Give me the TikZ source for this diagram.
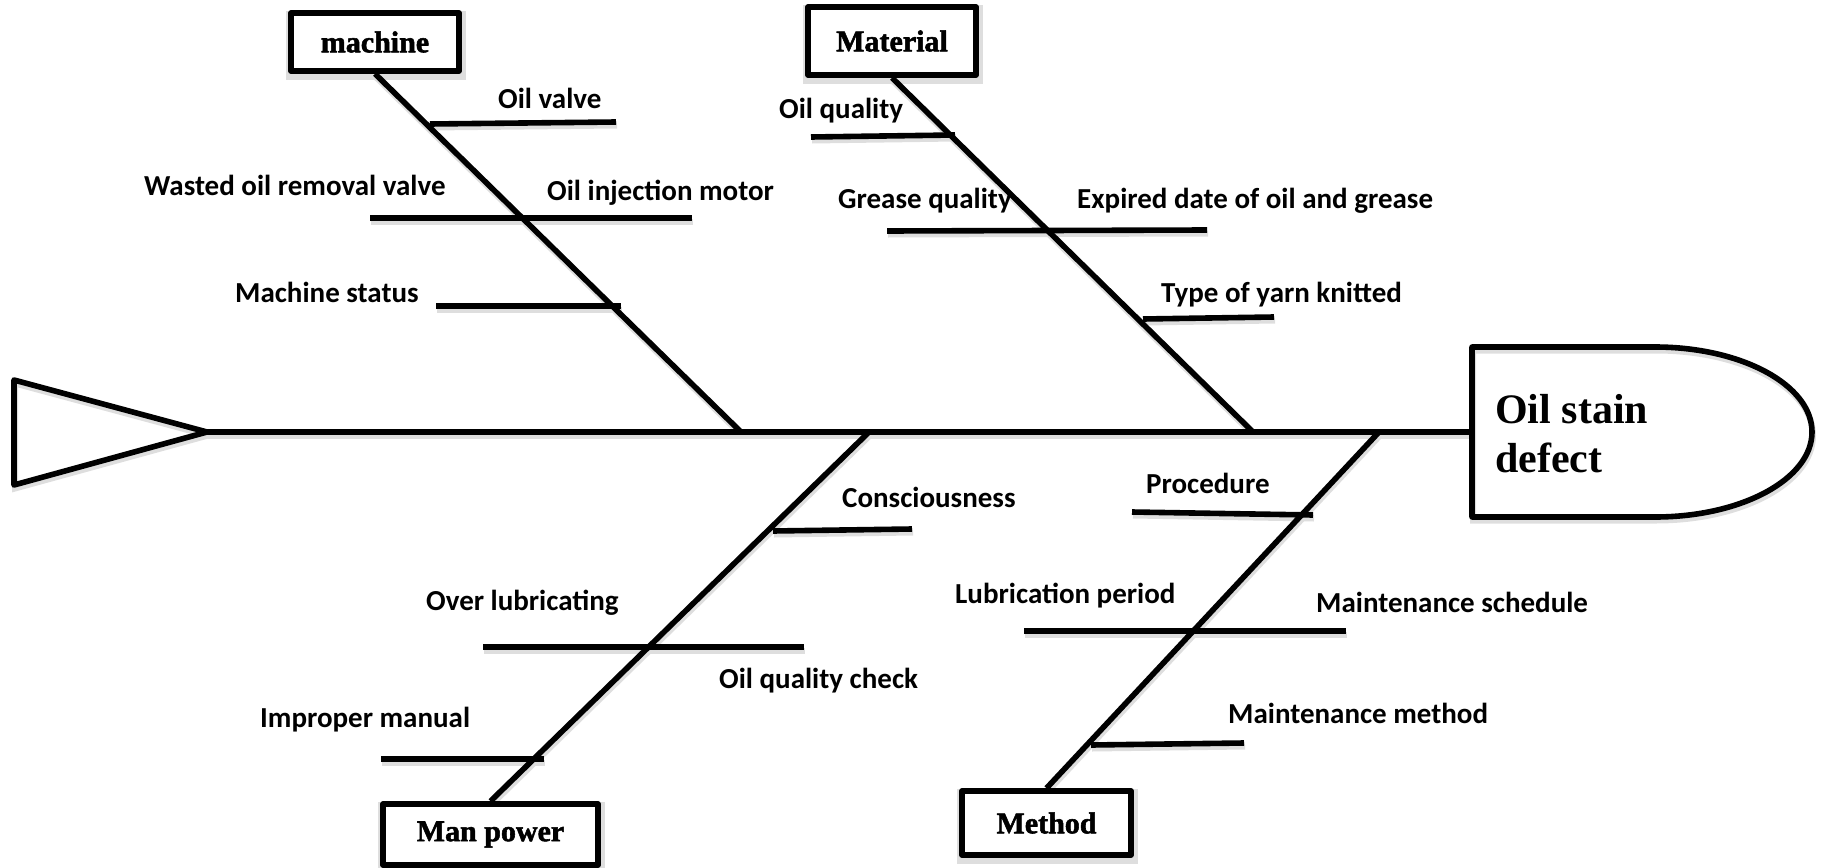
\documentclass[tikz,border=0pt]{standalone}
\usepackage{fontspec}
\setmainfont{Liberation Serif}
\newfontfamily\labelfont{Carlito}[BoldFont=* Bold]
\newfontfamily\catfont{Liberation Serif}[UprightFont={* Bold}, FakeBold=1.8]
\pgfdeclarelayer{shadow}
\pgfsetlayers{shadow,main}
\begin{document}
\begin{tikzpicture}[x=1pt,y=-1pt,
  drop/.style={draw=black!13, line width=6pt, transform canvas={shift={(1pt,-3.5pt)}}},
  bone/.style={line width=5.6pt, line cap=butt},
  frame/.style={draw, line width=5.6pt, line join=round},
  catbox/.style={frame, fill=white, rectangle, inner sep=0pt, font=\catfont\fontsize{30}{34}\selectfont},
  cause/.style={anchor=base west, inner sep=0pt, font=\labelfont\bfseries\fontsize{29}{33}\selectfont},
  headtext/.style={anchor=base west, inner sep=0pt, font=\fontsize{42}{48}\selectfont\bfseries}]
\useasboundingbox (0,0) rectangle (1822,867);

% tail of the fish
\coordinate (tailtop) at (14,380);
\coordinate (tailtip) at (207,432);
\coordinate (tailbot) at (14,485);
\draw[frame] (tailtop) -- (tailtip) -- (tailbot) -- cycle;

% head of the fish
\coordinate (headleft) at (1472,432);
\def\headpath{(1655,347) -- (1472,347) -- (1472,517) -- (1655,517)
  arc[start angle=90, end angle=-90, x radius=157, y radius=85]}
\draw[frame] \headpath;
\node[headtext] (effect1) at (1495,423) {Oil stain};
\node[headtext] (effect2) at (1495,472) {defect};

% category boxes
\node[catbox, minimum width=168pt, minimum height=58pt] (machine) at (375,42) {machine};
\node[catbox, minimum width=168pt, minimum height=68pt] (material) at (892,41) {Material};
\node[catbox, minimum width=215pt, minimum height=61pt] (manpower) at (490.5,834.5) {Man power};
\node[catbox, minimum width=169pt, minimum height=64pt] (method) at (1046.5,823) {Method};

% junctions on the spine
\coordinate (jmachine) at (741,432);
\coordinate (jmaterial) at (1253,432);
\coordinate (jmanpower) at (869,432);
\coordinate (jmethod) at (1379,432);

% ends of the cause lines
\coordinate (m1a) at (430,124); \coordinate (m1b) at (616,122);
\coordinate (m2a) at (370,218); \coordinate (m2b) at (692,218);
\coordinate (m3a) at (436,306); \coordinate (m3b) at (621,306);
\coordinate (t1a) at (811,137); \coordinate (t1b) at (955,135);
\coordinate (t2a) at (887,231); \coordinate (t2b) at (1207,230);
\coordinate (t3a) at (1143,319); \coordinate (t3b) at (1274,317);
\coordinate (p1a) at (773,531); \coordinate (p1b) at (912,529);
\coordinate (p2a) at (483,647); \coordinate (p2b) at (804,647);
\coordinate (p3a) at (381,759); \coordinate (p3b) at (544,759);
\coordinate (d1a) at (1132,512); \coordinate (d1b) at (1313,515);
\coordinate (d2a) at (1024,631); \coordinate (d2b) at (1346,631);
\coordinate (d3a) at (1091,745); \coordinate (d3b) at (1244,743);

% spine and main bones
\draw[bone] (tailtip) -- (headleft);
\draw[bone] (machine.south) -- (jmachine);
\draw[bone] (material.south) -- (jmaterial);
\draw[bone] (manpower.north) -- (jmanpower);
\draw[bone] (method.north) -- (jmethod);

% cause lines
\foreach \c in {m1,m2,m3,t1,t2,t3,p1,p2,p3,d1,d2,d3}
  \draw[bone] (\c a) -- (\c b);

% soft shadow under every stroke
\begin{pgfonlayer}{shadow}
  \draw[drop] (tailtop) -- (tailtip) -- (tailbot) -- cycle;
  \draw[drop] \headpath;
  \draw[drop] (tailtip) -- (headleft);
  \draw[drop] (machine.south) -- (jmachine);
  \draw[drop] (material.south) -- (jmaterial);
  \draw[drop] (manpower.north) -- (jmanpower);
  \draw[drop] (method.north) -- (jmethod);
  \foreach \c in {m1,m2,m3,t1,t2,t3,p1,p2,p3,d1,d2,d3}
    \draw[drop] (\c a) -- (\c b);
  \foreach \b in {machine,material,manpower,method}
    \draw[drop] (\b.north west) rectangle (\b.south east);
\end{pgfonlayer}

% machine causes
\node[cause] (oilvalve) at (498,108) {Oil valve};
\node[cause] (wasted) at (144,195) {Wasted oil removal valve};
\node[cause] (injection) at (547,200) {Oil injection motor};
\node[cause] (status) at (235,302) {Machine status};

% material causes
\node[cause] (oilquality) at (779,118) {Oil quality};
\node[cause] (grease) at (838,208) {Grease quality};
\node[cause] (expired) at (1077,208) {Expired date of oil and grease};
\node[cause] (yarn) at (1161,302) {Type of yarn knitted};

% man power causes
\node[cause] (conscious) at (842,507) {Consciousness};
\node[cause] (overlub) at (426,610) {Over lubricating};
\node[cause] (oilcheck) at (719,688) {Oil quality check};
\node[cause] (manual) at (260,727) {Improper manual};

% method causes
\node[cause] (procedure) at (1146,493) {Procedure};
\node[cause] (lubperiod) at (955,603) {Lubrication period};
\node[cause] (schedule) at (1316,612) {Maintenance schedule};
\node[cause] (mmethod) at (1228,723) {Maintenance method};
\end{tikzpicture}
\end{document}
